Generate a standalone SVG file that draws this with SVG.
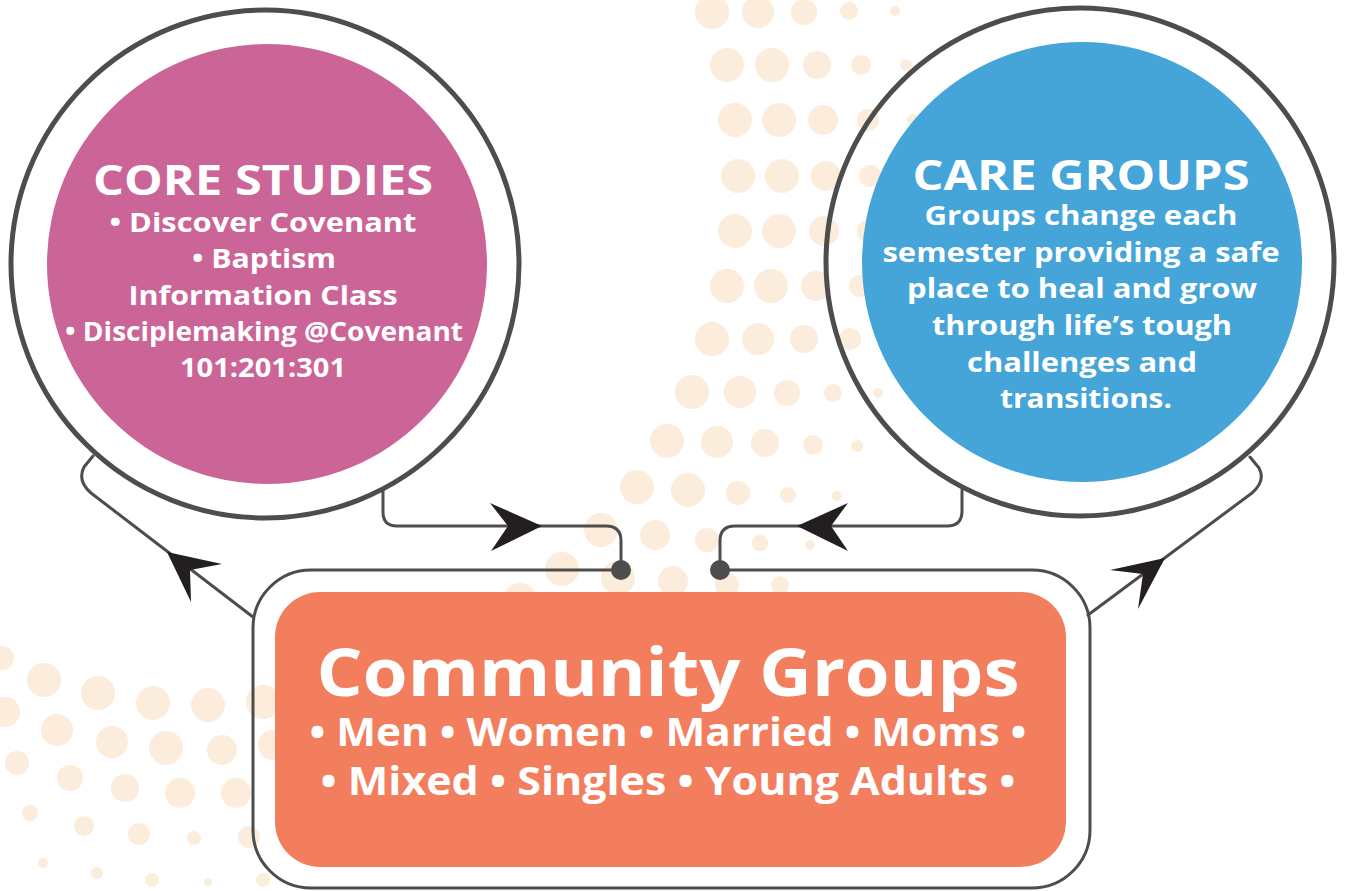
<svg xmlns="http://www.w3.org/2000/svg" width="1346" height="891" viewBox="0 0 1346 891">
<style>
.d{fill:#FBECDB}
.ring{fill:none;stroke:#4D4D4D;stroke-width:5}
.ln{fill:none;stroke:#4D4D4D;stroke-width:3;stroke-linecap:round;stroke-linejoin:round}
.ah{fill:#231F20}
.jt{fill:#4D4D4D}
.t{font-family:"Open Sans","DejaVu Sans",sans-serif;font-weight:700;fill:#FFFFFF;text-anchor:middle}
</style>
<rect width="1346" height="891" fill="#FFFFFF"/>
<g id="dots">
<circle class="d" cx="712" cy="12" r="17"/><circle class="d" cx="758" cy="12" r="16"/><circle class="d" cx="804" cy="12" r="13"/><circle class="d" cx="849" cy="11" r="9"/><circle class="d" cx="895" cy="11" r="5"/>
<circle class="d" cx="727" cy="65" r="17"/><circle class="d" cx="772" cy="65" r="17"/><circle class="d" cx="817" cy="65" r="14"/><circle class="d" cx="861" cy="65" r="10"/><circle class="d" cx="906" cy="65" r="6"/>
<circle class="d" cx="735" cy="120" r="17"/><circle class="d" cx="779" cy="120" r="17"/><circle class="d" cx="823" cy="120" r="15"/><circle class="d" cx="868" cy="120" r="11"/><circle class="d" cx="913" cy="120" r="6"/>
<circle class="d" cx="738" cy="176" r="17"/><circle class="d" cx="782" cy="176" r="17"/><circle class="d" cx="826" cy="176" r="15"/><circle class="d" cx="870" cy="176" r="11"/>
<circle class="d" cx="735" cy="231" r="17"/><circle class="d" cx="779" cy="231" r="17"/><circle class="d" cx="824" cy="231" r="15"/><circle class="d" cx="868" cy="231" r="11"/>
<circle class="d" cx="727" cy="286" r="17"/><circle class="d" cx="771" cy="286" r="17"/><circle class="d" cx="816" cy="286" r="15"/><circle class="d" cx="860" cy="286" r="11"/>
<circle class="d" cx="712" cy="339" r="17"/><circle class="d" cx="758" cy="339" r="16"/><circle class="d" cx="804" cy="339" r="14"/><circle class="d" cx="850" cy="339" r="11"/>
<circle class="d" cx="692" cy="392" r="17"/><circle class="d" cx="740" cy="392" r="16"/><circle class="d" cx="787" cy="393" r="13"/><circle class="d" cx="833" cy="393" r="9"/><circle class="d" cx="878" cy="393" r="5"/>
<circle class="d" cx="667" cy="441" r="17"/><circle class="d" cx="717" cy="442" r="16"/><circle class="d" cx="765" cy="443" r="14"/><circle class="d" cx="813" cy="445" r="10"/><circle class="d" cx="857" cy="446" r="6"/>
<circle class="d" cx="637" cy="487" r="17"/><circle class="d" cx="688" cy="490" r="17"/><circle class="d" cx="738" cy="493" r="12"/><circle class="d" cx="788" cy="495" r="8"/><circle class="d" cx="837" cy="496" r="5"/>
<circle class="d" cx="601" cy="530" r="17"/><circle class="d" cx="655" cy="535" r="15"/><circle class="d" cx="707" cy="540" r="12"/><circle class="d" cx="760" cy="543" r="8"/><circle class="d" cx="810" cy="545" r="5"/>
<circle class="d" cx="562" cy="569" r="17"/><circle class="d" cx="618" cy="578" r="17"/><circle class="d" cx="673" cy="581" r="15"/><circle class="d" cx="727" cy="585" r="12"/><circle class="d" cx="780" cy="585" r="9"/>
<circle class="d" cx="520" cy="600" r="17"/>
<circle class="d" cx="2" cy="658" r="12"/>
<circle class="d" cx="44" cy="680" r="17"/><circle class="d" cx="98" cy="693" r="17"/><circle class="d" cx="153" cy="703" r="17"/><circle class="d" cx="208" cy="705" r="17"/><circle class="d" cx="263" cy="702" r="17"/>
<circle class="d" cx="5" cy="712" r="15"/><circle class="d" cx="57" cy="730" r="16"/><circle class="d" cx="112" cy="742" r="16"/><circle class="d" cx="166" cy="748" r="17"/><circle class="d" cx="222" cy="750" r="15"/><circle class="d" cx="273" cy="745" r="15"/>
<circle class="d" cx="17" cy="763" r="12"/><circle class="d" cx="70" cy="778" r="13"/><circle class="d" cx="125" cy="788" r="14"/><circle class="d" cx="180" cy="793" r="15"/><circle class="d" cx="236" cy="793" r="15"/>
<circle class="d" cx="30" cy="813" r="8"/><circle class="d" cx="84" cy="826" r="10"/><circle class="d" cx="139" cy="834" r="11"/><circle class="d" cx="194" cy="838" r="7"/><circle class="d" cx="249" cy="837" r="11"/>
<circle class="d" cx="43" cy="863" r="5"/><circle class="d" cx="97" cy="873" r="6"/><circle class="d" cx="152" cy="880" r="7"/><circle class="d" cx="208" cy="882" r="4"/><circle class="d" cx="263" cy="880" r="7"/>
</g>
<g id="connectors">
<path class="ln" d="M 93 456 L 84 467 Q 77 481 91 493 L 253 617"/>
<polygon class="ah" points="167,552 222,564 190,570 191,602"/>
<path class="ln" d="M 1250 457 L 1259 468 Q 1266 481 1252 493 L 1088 615"/>
<polygon class="ah" points="1165,558 1110,570 1143,574 1138,609"/>
<path class="ln" d="M 383 489 L 383 512 Q 383 526 397 526 L 606 526 Q 621 526 621 541 L 621 570"/>
<polygon class="ah" points="542,526 490,503 508,526 491,551"/>
<circle class="jt" cx="621" cy="570" r="10"/>
<path class="ln" d="M 962 490 L 962 511 Q 962 526 947 526 L 735 526 Q 720 526 720 541 L 720 570"/>
<polygon class="ah" points="797,526 848,503 831,526 848,551"/>
<circle class="jt" cx="720" cy="570" r="10"/>
</g>
<g id="core-studies">
<circle class="ring" cx="265" cy="264" r="254"/>
<circle cx="267" cy="264" r="220" fill="#CB6597"/>
<text class="t" x="263" y="195" font-size="42" textLength="340" lengthAdjust="spacingAndGlyphs">CORE STUDIES</text>
<text class="t" x="263" y="232" font-size="27" textLength="307" lengthAdjust="spacingAndGlyphs">• Discover Covenant</text>
<text class="t" x="264" y="268" font-size="27" textLength="144" lengthAdjust="spacingAndGlyphs">• Baptism</text>
<text class="t" x="263" y="305" font-size="27" textLength="269" lengthAdjust="spacingAndGlyphs">Information Class</text>
<text class="t" x="264" y="341" font-size="27" textLength="398" lengthAdjust="spacingAndGlyphs">• Disciplemaking @Covenant</text>
<text class="t" x="263" y="377" font-size="27" textLength="166" lengthAdjust="spacingAndGlyphs">101:201:301</text>
</g>
<g id="care-groups">
<circle class="ring" cx="1080" cy="262" r="254"/>
<circle cx="1082" cy="262" r="220" fill="#45A5D8"/>
<text class="t" x="1081" y="190" font-size="42" textLength="337" lengthAdjust="spacingAndGlyphs">CARE GROUPS</text>
<text class="t" x="1081" y="225" font-size="26" textLength="313" lengthAdjust="spacingAndGlyphs">Groups change each</text>
<text class="t" x="1081" y="262" font-size="26" textLength="397" lengthAdjust="spacingAndGlyphs">semester providing a safe</text>
<text class="t" x="1082" y="298" font-size="26" textLength="350" lengthAdjust="spacingAndGlyphs">place to heal and grow</text>
<text class="t" x="1082" y="335" font-size="26" textLength="300" lengthAdjust="spacingAndGlyphs">through life’s tough</text>
<text class="t" x="1082" y="372" font-size="26" textLength="230" lengthAdjust="spacingAndGlyphs">challenges and</text>
<text class="t" x="1086" y="408" font-size="26" textLength="172" lengthAdjust="spacingAndGlyphs">transitions.</text>
</g>
<g id="community-groups">
<path class="ln" d="M 621 570 L 311 570 A 58 58 0 0 0 253 628 L 253 830 A 58 58 0 0 0 311 888 L 1032 888 A 58 58 0 0 0 1090 830 L 1090 628 A 58 58 0 0 0 1032 570 L 720 570"/>
<rect x="275" y="592" width="791" height="275" rx="45" fill="#F27E5E"/>
<text class="t" x="668" y="696" font-size="67" textLength="703" lengthAdjust="spacingAndGlyphs">Community Groups</text>
<text class="t" x="668" y="746" font-size="39" textLength="717" lengthAdjust="spacingAndGlyphs">• Men • Women • Married • Moms •</text>
<text class="t" x="668" y="795" font-size="39" textLength="695" lengthAdjust="spacingAndGlyphs">• Mixed • Singles • Young Adults •</text>
</g>
</svg>
